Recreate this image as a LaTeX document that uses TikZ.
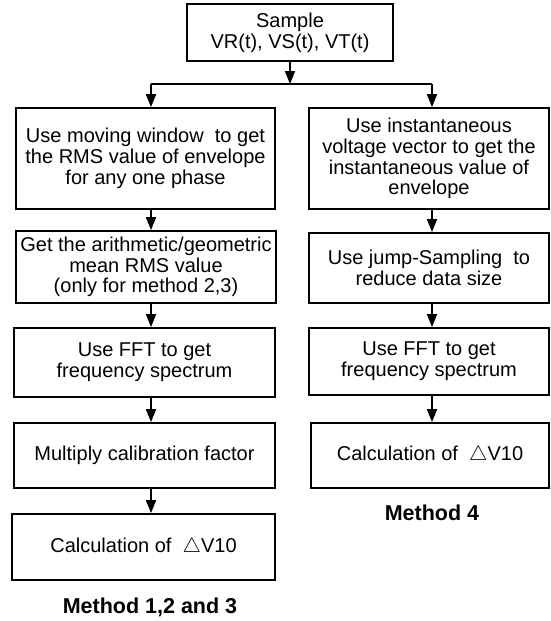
\documentclass[tikz,border=0pt]{standalone}
\usepackage{fontspec}
\setmainfont{Liberation Sans}
\usetikzlibrary{arrows.meta}
\begin{document}
\begin{tikzpicture}[x=1pt,y=-1pt,
  box/.style={draw,line width=1.8pt,align=center,inner sep=0pt,
    font=\fontsize{20}{20.8}\selectfont},
  arr/.style={line width=1.8pt,-{Triangle[width=10pt,length=13pt]}},
  lbl/.style={font=\fontsize{21.5}{24}\selectfont\bfseries}]
\useasboundingbox (0,0) rectangle (551,621);
\newcommand{\boxat}[6]{%
  \node[box,minimum width={#4-#2},minimum height={#5-#3}] (#1) at ({(#2+#4)/2},{(#3+#5)/2}) {#6};}
\boxat{S}{187}{4}{393}{61}{Sample\\VR(t), VS(t), VT(t)}
\boxat{L1}{16}{108}{275}{209}{Use moving window\ \ to get\\the RMS value of envelope\\for any one phase}
\boxat{L2}{16}{231}{276}{303}{Get the arithmetic/geometric\\mean RMS value\\(only for method 2,3)}
\boxat{L3}{14}{328}{275}{397}{Use FFT to get\\frequency spectrum}
\boxat{L4}{14}{423}{275}{488}{Multiply calibration factor}
\boxat{L5}{12}{514}{275}{580}{Calculation of \ $\triangle$V10}
\boxat{R1}{309}{108}{549}{209}{Use instantaneous\\voltage vector to get the\\instantaneous value of\\envelope}
\boxat{R2}{309}{233}{549}{303}{Use jump-Sampling\ \ to\\reduce data size}
\boxat{R3}{309}{328}{549}{395}{Use FFT to get\\frequency spectrum}
\boxat{R4}{311}{423}{549}{488}{Calculation of \ $\triangle$V10}
\node[lbl] (M1) at (150,607) {Method 1,2 and 3};
\node[lbl] (M4) at (432,513) {Method 4};
\coordinate (J) at (290,84);
\coordinate (JL) at (151,84);
\coordinate (JR) at (432,84);
\draw[arr] (S.south -| J) -- (J);
\draw[line width=1.8pt] (JL) -- (JR);
\draw[arr] (JL) -- (L1.north -| JL);
\draw[arr] (JR) -- (R1.north -| JR);
\foreach \a/\b in {L1/L2,L2/L3,L3/L4,L4/L5}
  \draw[arr] (\a.south -| JL) -- (\b.north -| JL);
\foreach \a/\b in {R1/R2,R2/R3,R3/R4}
  \draw[arr] (\a.south -| JR) -- (\b.north -| JR);
\end{tikzpicture}
\end{document}
